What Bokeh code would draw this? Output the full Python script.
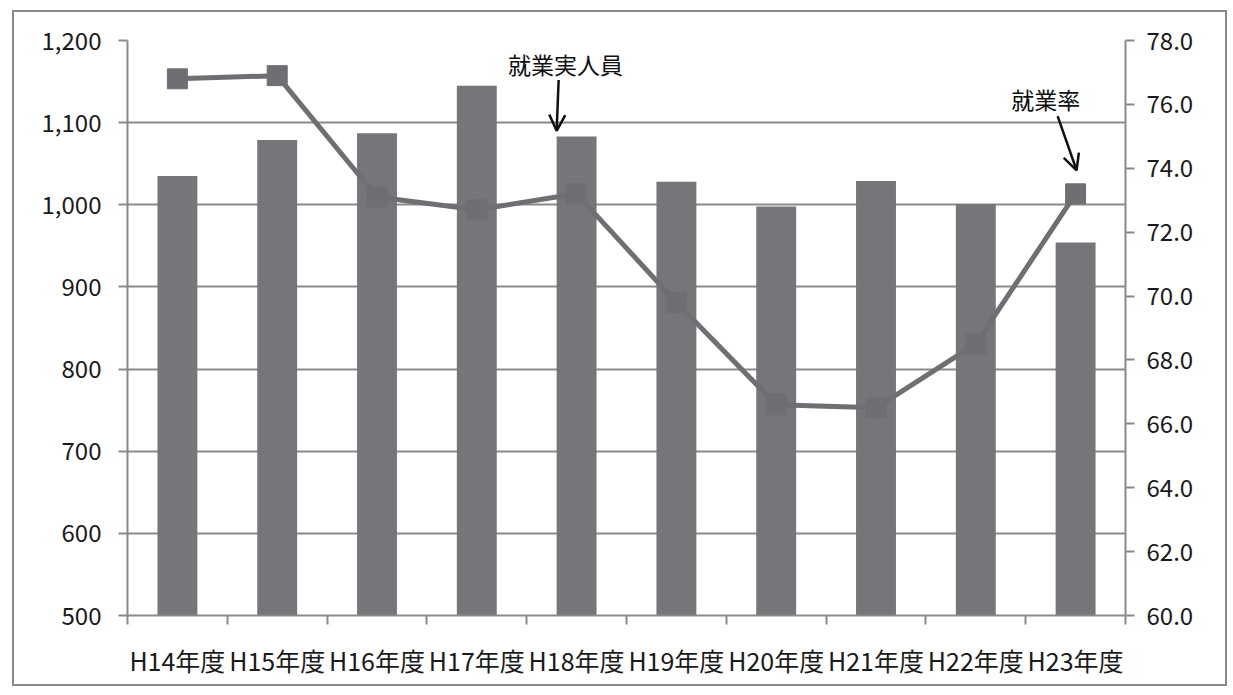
from bokeh.plotting import figure
from bokeh.models import (Range1d, LinearAxis, FixedTicker, NumeralTickFormatter,
                          Label, Arrow, OpenHead)
from bokeh.embed import file_html
from bokeh.resources import INLINE

categories = ["H14年度", "H15年度", "H16年度", "H17年度", "H18年度",
              "H19年度", "H20年度", "H21年度", "H22年度", "H23年度"]
workers = [1035, 1079, 1087, 1145, 1083, 1028, 998, 1029, 1001, 954]
rate = [76.8, 76.9, 73.1, 72.7, 73.2, 69.8, 66.6, 66.5, 68.5, 73.2]
left_ticks = [500, 600, 700, 800, 900, 1000, 1100, 1200]
right_ticks = [60, 62, 64, 66, 68, 70, 72, 74, 76, 78]

n = len(categories)
xs = list(range(n))

FONT = "Noto Sans CJK JP"
GRAY = "#75767a"
LINE = "#6e6f72"
AXC = "#8a8a8a"

p = figure(width=1215, height=676, output_backend="svg", toolbar_location=None,
           x_range=Range1d(-0.5, n - 0.5), y_range=Range1d(500, 1200),
           min_border_left=113, min_border_right=104, min_border_top=28,
           min_border_bottom=73, outline_line_color=None, x_axis_location=None,
           y_axis_location=None)
p.styles = {"margin-left": "12px", "margin-top": "10px",
            "border": "2px solid #8a8a8a"}
p.extra_y_ranges = {"rate": Range1d(60, 78)}

# bottom axis
xaxis = LinearAxis(ticker=FixedTicker(ticks=xs, minor_ticks=[i - 0.5 for i in range(n + 1)]))
xaxis.major_label_overrides = {i: c for i, c in enumerate(categories)}
xaxis.major_tick_out = 0
xaxis.major_tick_in = 0
xaxis.minor_tick_out = 9
xaxis.minor_tick_in = 0
xaxis.minor_tick_line_color = AXC
xaxis.minor_tick_line_width = 2
xaxis.axis_line_color = AXC
xaxis.axis_line_width = 2
xaxis.major_label_text_font = FONT
xaxis.major_label_text_font_size = "25px"
xaxis.major_label_text_color = "#1a1a1a"
xaxis.major_label_standoff = 17
p.add_layout(xaxis, "below")

# left axis
laxis = LinearAxis(ticker=FixedTicker(ticks=left_ticks),
                   formatter=NumeralTickFormatter(format="0,0"))
laxis.major_tick_out = 9
laxis.major_tick_in = 0
laxis.minor_tick_line_color = None
laxis.major_tick_line_color = AXC
laxis.major_tick_line_width = 2
laxis.axis_line_color = AXC
laxis.axis_line_width = 2
laxis.major_label_text_font = FONT
laxis.major_label_text_font_size = "24px"
laxis.major_label_text_color = "#1a1a1a"
laxis.major_label_standoff = 17
p.add_layout(laxis, "left")

# right axis
raxis = LinearAxis(y_range_name="rate", ticker=FixedTicker(ticks=right_ticks),
                   formatter=NumeralTickFormatter(format="0.0"))
raxis.major_tick_out = 9
raxis.major_tick_in = 0
raxis.minor_tick_line_color = None
raxis.major_tick_line_color = AXC
raxis.major_tick_line_width = 2
raxis.axis_line_color = AXC
raxis.axis_line_width = 2
raxis.major_label_text_font = FONT
raxis.major_label_text_font_size = "24px"
raxis.major_label_text_color = "#1a1a1a"
raxis.major_label_standoff = 12
p.add_layout(raxis, "right")

p.xgrid.visible = False
p.ygrid.ticker = FixedTicker(ticks=left_ticks)
p.ygrid.grid_line_color = AXC
p.ygrid.grid_line_width = 2

p.vbar(x=xs, top=workers, bottom=500, width=0.4, fill_color=GRAY, line_color=None)
p.line(xs, rate, y_range_name="rate", line_color=LINE, line_width=5)
p.scatter(xs, rate, y_range_name="rate", marker="square", size=20,
          fill_color=LINE, line_color=LINE)

# annotations
p.add_layout(Label(x=3.89, y=1172, text="就業実人員", text_font=FONT,
                   text_font_size="23px", text_color="#111111",
                   text_align="center", text_baseline="middle"))
p.add_layout(Arrow(x_start=3.82, y_start=1152, x_end=3.80, y_end=1090,
                   line_color="#111111", line_width=2.5,
                   end=OpenHead(size=16, line_color="#111111", line_width=2.5)))
p.add_layout(Label(x=8.70, y=1129, text="就業率", text_font=FONT,
                   text_font_size="23px", text_color="#111111",
                   text_align="center", text_baseline="middle"))
p.add_layout(Arrow(x_start=8.82, y_start=1108, x_end=9.01, y_end=1042,
                   line_color="#111111", line_width=2.5,
                   end=OpenHead(size=16, line_color="#111111", line_width=2.5)))

open("out.html", "w").write(file_html(p, INLINE))
